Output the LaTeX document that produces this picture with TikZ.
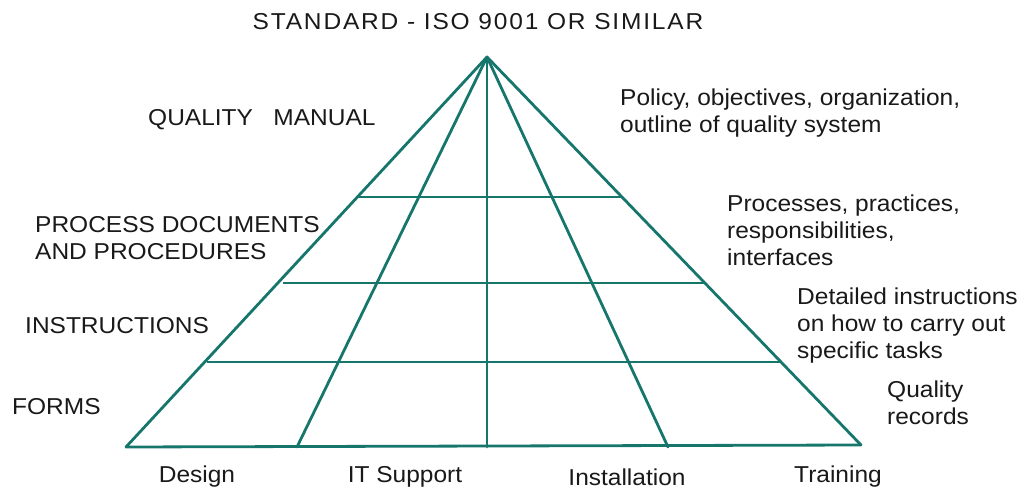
\documentclass[tikz,border=0pt]{standalone}
\usepackage{fontspec}
\setmainfont[FakeStretch=1.065]{Liberation Sans}
\definecolor{pyr}{RGB}{22,118,108}
\begin{document}
\begin{tikzpicture}[x=1pt,y=-1pt,
  ln/.style={draw=pyr,line width=2.8pt,line cap=round},
  hl/.style={draw=pyr,line width=1.6pt},
  lbl/.style={font=\fontsize{23}{27}\selectfont,text=black!90,inner sep=0pt,align=left},
  cat/.style={font=\fontsize{23}{27}\selectfont,text=black!90,inner sep=0pt}]
\useasboundingbox (0,0) rectangle (1018,489);
\coordinate (apex) at (487,57);
\coordinate (bl) at (126,447);
\coordinate (b1) at (297,447);
\coordinate (b2) at (487,447);
\coordinate (b3) at (668,447);
\coordinate (br) at (861,445);
\coordinate (h1l) at (357,197); \coordinate (h1r) at (622,197);
\coordinate (h2l) at (283,283); \coordinate (h2r) at (705,283);
\coordinate (h3l) at (207,362); \coordinate (h3r) at (781,362);
\draw[hl] (h1l) -- (h1r);
\draw[hl] (h2l) -- (h2r);
\draw[hl] (h3l) -- (h3r);
\draw[ln] (apex) -- (bl);
\draw[ln] (apex) -- (b1);
\draw[ln] (apex) -- (b2);
\draw[ln] (apex) -- (b3);
\draw[ln] (apex) -- (br);
\draw[ln] (bl) -- (br);
\node[lbl,anchor=center] (title) at (478,22) {\addfontfeature{LetterSpace=8}STANDARD - ISO 9001 OR SIMILAR};
\node[lbl,anchor=west] (qm) at (148,120) {QUALITY\ \ \ MANUAL};
\node[lbl,anchor=west] (pd) at (35,238) {PROCESS DOCUMENTS\\AND PROCEDURES};
\node[lbl,anchor=west] (ins) at (25,326) {INSTRUCTIONS};
\node[lbl,anchor=west] (frm) at (12,407) {FORMS};
\node[lbl,anchor=west] (pol) at (620,113) {Policy, objectives, organization,\\outline of quality system};
\node[lbl,anchor=west] (proc) at (727,230) {Processes, practices,\\responsibilities,\\interfaces};
\node[lbl,anchor=west] (det) at (797,326) {Detailed instructions\\on how to carry out\\specific tasks};
\node[lbl,anchor=west] (qr) at (887,403) {Quality\\records};
\node[cat] (d) at (197,477) {Design};
\node[cat] (it) at (405,477) {IT Support};
\node[cat] (in) at (627,477) {Installation};
\node[cat] (tr) at (838,477) {Training};
\end{tikzpicture}
\end{document}
